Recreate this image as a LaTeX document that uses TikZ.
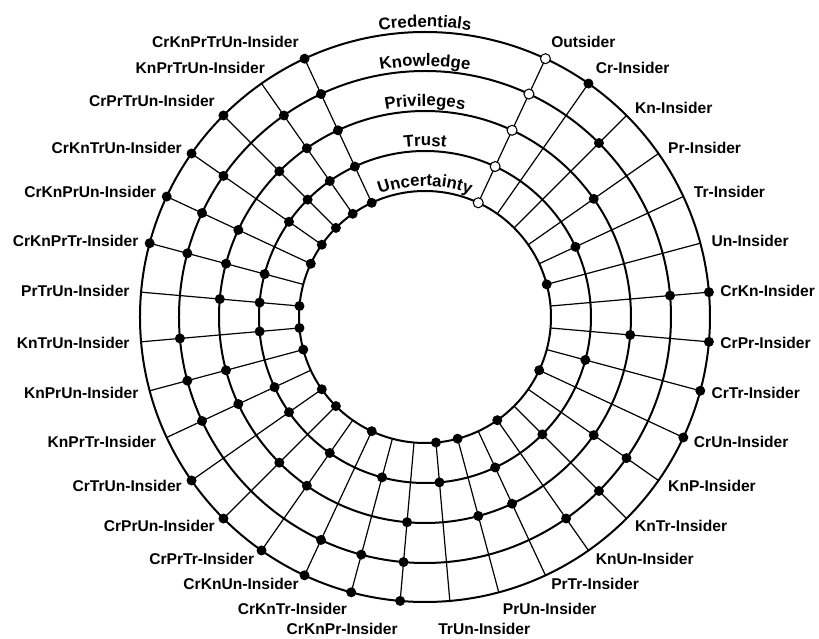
\documentclass[tikz,border=0pt]{standalone}
\usepackage{fontspec}
\setmainfont{Liberation Sans}
\usetikzlibrary{decorations.text}
\newcommand\ringfont{\bfseries\fontsize{12.6}{14}\selectfont}
\tikzset{
  ring/.style={line width=1.5pt},
  spoke/.style={line width=0.9pt},
  hit/.style={circle,fill=black,inner sep=0pt,minimum size=7.5pt},
  miss/.style={circle,draw=black,fill=white,line width=0.8pt,inner sep=0pt,minimum size=7.5pt},
  lbl/.style={font=\bfseries\fontsize{11.7}{13}\selectfont,inner sep=1pt}
}
\begin{document}
\begin{tikzpicture}[x=0.75pt,y=0.75pt]
  \useasboundingbox (-425,-322) rectangle (394,317);
  \coordinate (c) at (0,0);
  \foreach \r in {285,246,206,166,126} \draw[ring] (c) circle (\r);

  \path[decorate,decoration={text along path,text align=center,text={|\ringfont|Credentials}}] (120:290) arc (120:60:290);
  \path[decorate,decoration={text along path,text align=center,text={|\ringfont|Knowledge}}] (120:251) arc (120:60:251);
  \path[decorate,decoration={text along path,text align=center,text={|\ringfont|Privileges}}] (120:211) arc (120:60:211);
  \path[decorate,decoration={text along path,text align=center,text={|\ringfont|Trust}}] (120:171) arc (120:60:171);
  \path[decorate,decoration={text along path,text align=center,text={|\ringfont|Uncertainty}}] (120:131) arc (120:60:131);

  \foreach \lab/\vc/\vn/\vp/\vt/\vu/\anc/\dx/\dy [count=\k from 0] in {
      Outsider/2/2/2/2/2/south west/0/0,
      Cr-Insider/1/0/0/0/0/south west/0/0,
      Kn-Insider/0/1/0/0/0/west/0/0,
      Pr-Insider/0/0/1/0/0/west/0/0,
      Tr-Insider/0/0/0/1/0/west/0/0,
      Un-Insider/0/0/0/0/1/west/0/0,
      CrKn-Insider/1/1/0/0/0/west/0/0,
      CrPr-Insider/1/0/1/0/0/west/0/0,
      CrTr-Insider/1/0/0/1/0/west/0/0,
      CrUn-Insider/1/0/0/0/1/west/0/0,
      KnP-Insider/0/1/1/0/0/west/0/0,
      KnTr-Insider/0/1/0/1/0/west/0/0,
      KnUn-Insider/0/1/0/0/1/west/0/0,
      PrTr-Insider/0/0/1/1/0/west/0/0,
      PrUn-Insider/0/0/1/0/1/north west/0/0,
      TrUn-Insider/0/0/0/1/1/north west/-10.5/-8,
      CrKnPr-Insider/1/1/1/0/0/north east/0/-8,
      CrKnTr-Insider/1/1/0/1/0/north east/0/0,
      CrKnUn-Insider/1/1/0/0/1/east/0/0,
      CrPrTr-Insider/1/0/1/1/0/east/0/0,
      CrPrUn-Insider/1/0/1/0/1/east/0/0,
      CrTrUn-Insider/1/0/0/1/1/east/0/0,
      KnPrTr-Insider/0/1/1/1/0/east/0/0,
      KnPrUn-Insider/0/1/1/0/1/east/0/0,
      KnTrUn-Insider/0/1/0/1/1/east/0/0,
      PrTrUn-Insider/0/0/1/1/1/east/0/0,
      CrKnPrTr-Insider/1/1/1/1/0/east/0/0,
      CrKnPrUn-Insider/1/1/1/0/1/east/0/0,
      CrKnTrUn-Insider/1/1/0/1/1/east/0/0,
      CrPrTrUn-Insider/1/0/1/1/1/south east/0/0,
      KnPrTrUn-Insider/0/1/1/1/1/south east/8/0,
      CrKnPrTrUn-Insider/1/1/1/1/1/south east/0/0}{
    \pgfmathsetmacro\ang{65-10*\k}
    \coordinate (in\k) at (\ang:126);
    \coordinate (out\k) at (\ang:285);
    \draw[spoke] (in\k) -- (out\k);
    \foreach \b/\r/\j in {\vc/285/1,\vn/246/2,\vp/206/3,\vt/166/4,\vu/126/5}{
      \ifcase\b\or \node[hit] (d\k-\j) at (\ang:\r) {}; \or \node[miss] (d\k-\j) at (\ang:\r) {}; \fi
    }
    \node[lbl,anchor=\anc,xshift=\dx,yshift=\dy] (l\k) at (\ang:295) {\lab};
  }
\end{tikzpicture}
\end{document}
